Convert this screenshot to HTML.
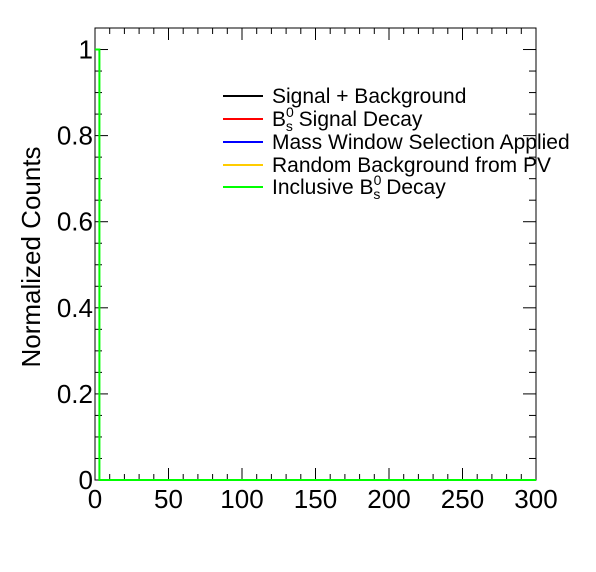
<!DOCTYPE html>
<html><head><meta charset="utf-8"><style>
body{margin:0;background:#fff}
svg{display:block;font-family:"Liberation Sans",sans-serif}
</style></head><body>
<svg id="c" width="596" height="572" xmlns="http://www.w3.org/2000/svg">
<rect width="596" height="572" fill="#fff"/>
<g id="plot"></g>
</svg>
<script>
const xTicks=[0,50,100,150,200,250,300];
const yTicks=[0,0.2,0.4,0.6,0.8,1];
const yTickLabels=["0","0.2","0.4","0.6","0.8","1"];
const binEdges=[0,3,300];
const inclusiveValues=[1,0];
const legendLabels=["Signal + Background","B_s^0 Signal Decay","Mass Window Selection Applied","Random Background from PV","Inclusive B_s^0 Decay"];
const legendColors=["#000000","#ff0000","#0000ff","#ffcc00","#00ff00"];

const L=95,R=536,T=28,B=480;
const X=v=>L+(v-0)/(300-0)*(R-L);
const Y=v=>B-(v-0)/(1.05-0)*(B-T);
const NS="http://www.w3.org/2000/svg";
const g=document.getElementById('plot');
function mk(tag,attrs,parent){const e=document.createElementNS(NS,tag);for(const k in attrs)e.setAttribute(k,attrs[k]);(parent||g).appendChild(e);return e;}

// frame
let fr=mk('rect',{x:L,y:T,width:R-L,height:B-T,fill:'none',stroke:'#000','stroke-width':1});



// x ticks
for(let v=0;v<=300;v+=10){
  const major=v%50===0, len=major?12:6, x=X(v);
  let t=mk('line',{x1:x,y1:B,x2:x,y2:B-len,stroke:'#000'});
  
  
  let t2=mk('line',{x1:x,y1:T,x2:x,y2:T+len,stroke:'#000'});
  
  
}
xTicks.forEach(v=>{
  let t=mk('text',{x:X(v),y:B+28,'font-size':26,'text-anchor':'middle'});
  t.textContent=String(v);
  
  
});
// y ticks
for(let i=0;i<=21;i++){
  const v=i*0.05, major=i%4===0, len=major?13:7, y=Y(v);
  let t=mk('line',{x1:L,y1:y,x2:L+len,y2:y,stroke:'#000'});
  
  
  let t2=mk('line',{x1:R,y1:y,x2:R-len,y2:y,stroke:'#000'});
  
  
}
yTicks.forEach((v,i)=>{
  let t=mk('text',{x:L-2,y:Y(v)+9,'font-size':26,'text-anchor':'end'});
  t.textContent=yTickLabels[i];
  
  
});
// y title
let yt=mk('text',{x:0,y:0,'font-size':26,'text-anchor':'middle',transform:'translate(40,257) rotate(-90)'});
yt.textContent='Normalized Counts';



// inclusive histogram (drawn over frame)
let d='M'+X(binEdges[0])+','+Y(inclusiveValues[0]);
inclusiveValues.forEach((v,i)=>{d+=' L'+X(binEdges[i])+','+Y(v)+' L'+X(binEdges[i+1])+','+Y(v);});
let h=mk('path',{d:d,fill:'none',stroke:'#00ff00','stroke-width':2});



// legend
const ly=[96,119,142,165,187];
legendLabels.forEach((lab,i)=>{
  let ln=mk('line',{x1:223,y1:ly[i],x2:263,y2:ly[i],stroke:legendColors[i],'stroke-width':2});
  
  
  let t=mk('text',{x:272,y:ly[i]+7,'font-size':21});
  
  
  const m=lab.match(/^(.*)B_s\^0(.*)$/);
  if(m){
    if(m[1]){const a=mk('tspan',{},t);a.textContent=m[1];}
    const b=mk('tspan',{},t);b.textContent='B';
    const s=mk('tspan',{'font-size':14,dy:-9},t);s.textContent='0';
    const sb=mk('tspan',{'font-size':14,dx:-8,dy:14},t);sb.textContent='s';
    const r=mk('tspan',{dy:-5},t);r.textContent=m[2];
  } else t.textContent=lab;
});
</script>
</body></html>
